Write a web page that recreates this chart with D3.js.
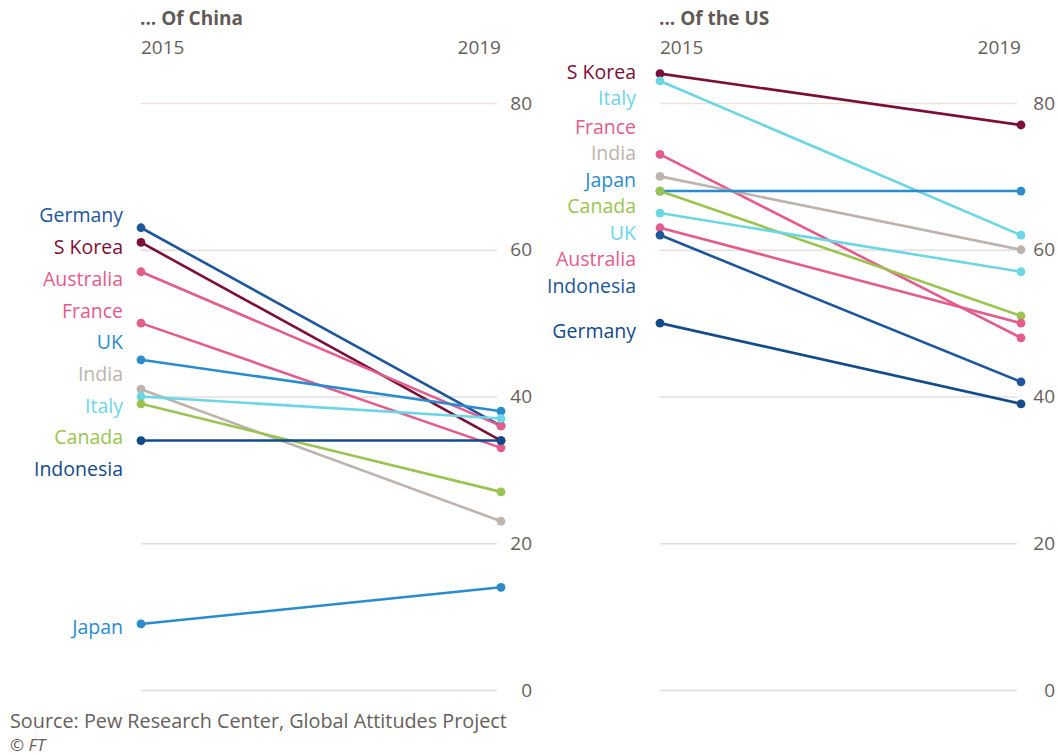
<!DOCTYPE html>
<html lang="en">
<head>
<meta charset="UTF-8">
<title>Views of China and the US</title>
<style>
  body { margin: 0; background: #fff; }
  svg text { font-family: "Open Sans", Lato, sans-serif; }
</style>
</head>
<body>
<script src="https://cdnjs.cloudflare.com/ajax/libs/d3/7.8.5/d3.min.js"></script>
<script>
'use strict';

// --- data ---
const years = ["2015", "2019"];
const yTicks = [0, 20, 40, 60, 80];

const chinaCountries = ["Germany", "S Korea", "Australia", "France", "UK", "India", "Italy", "Canada", "Indonesia", "Japan"];
const china2015 = [63, 61, 57, 50, 45, 41, 40, 39, 34, 9];
const china2019 = [36, 34, 36, 33, 38, 23, 37, 27, 34, 14];

const usCountries = ["S Korea", "Italy", "France", "India", "Japan", "Canada", "UK", "Australia", "Indonesia", "Germany"];
const us2015 = [84, 83, 73, 70, 68, 68, 65, 63, 62, 50];
const us2019 = [77, 62, 48, 60, 68, 51, 57, 50, 42, 39];

// colours (each panel assigns its own)
const pal = {
  navy: "#1d569b", navy2: "#134b8a", claret: "#7b0f38", pink: "#e45b8d",
  blue: "#2a8ccd", cyan: "#6bd6e4", grey: "#bcb4ad", green: "#9ac450"
};
const chinaColours = ["navy", "claret", "pink", "pink", "blue", "grey", "cyan", "green", "navy2", "blue"];
const usColours = ["claret", "cyan", "pink", "grey", "blue", "green", "cyan", "pink", "navy", "navy2"];

const W = 1058, H = 755;
const svg = d3.select("body").append("svg").attr("width", W).attr("height", H);

const y = d3.scaleLinear().domain([0, 80]).range([690, 103]);

// spread labels so they don't overlap, keeping groups centred on their dots
function spread(ys, gap) {
  let groups = ys.map((v, i) => ({ ids: [i], c: v }))
    .sort((a, b) => a.c - b.c);
  let moved = true;
  while (moved) {
    moved = false;
    for (let i = 0; i < groups.length - 1; i++) {
      const a = groups[i], b = groups[i + 1];
      const aEnd = a.c + (a.ids.length - 1) * gap / 2;
      const bStart = b.c - (b.ids.length - 1) * gap / 2;
      if (bStart - aEnd < gap) {
        const ids = a.ids.concat(b.ids);
        const c = d3.mean(ids, k => ys[k]);
        groups.splice(i, 2, { ids: ids.sort((p, q) => ys[p] - ys[q]), c: c });
        moved = true;
        break;
      }
    }
  }
  const out = [];
  groups.forEach(g => g.ids.forEach((k, j) => {
    out[k] = g.c + (j - (g.ids.length - 1) / 2) * gap;
  }));
  return out;
}

function panel(opts) {
  const g = svg.append("g");
  const x = d3.scalePoint().domain(years).range([opts.x0, opts.x1]);
  const rows = opts.countries.map((c, i) => ({
    name: c, a: opts.v0[i], b: opts.v1[i], col: pal[opts.colours[i]]
  }));

  // title + years
  g.append("text").attr("x", opts.x0 - 1).attr("y", 25)
    .attr("font-size", 19).attr("font-weight", 700).attr("fill", "#5f5a56")
    .text(opts.title);
  g.selectAll("text.yr").data(years).enter().append("text")
    .attr("class", "yr")
    .attr("x", d => x(d))
    .attr("y", 54)
    .attr("text-anchor", (d, i) => i ? "end" : "start")
    .attr("font-size", 19).attr("fill", "#66605c")
    .text(d => d);

  // grid + tick labels on the right
  const axis = d3.axisRight(y).tickValues(yTicks)
    .tickSize(opts.x1 - opts.x0 - 4).tickPadding(10);
  const ax = g.append("g").attr("transform", `translate(${opts.x0},0)`).call(axis);
  ax.select(".domain").remove();
  ax.selectAll(".tick line")
    .attr("stroke", d => d === 80 ? "#ece2da" : "#e2dfdc").attr("stroke-width", 1.6);
  ax.selectAll(".tick text")
    .attr("font-size", 19).attr("fill", "#66605c")
    .attr("font-family", "'Open Sans', Lato, sans-serif")
    .attr("text-anchor", "end")
    .attr("x", opts.tickRight - opts.x0);

  // slopes
  g.selectAll("line.s").data(rows).enter().append("line")
    .attr("class", "s")
    .attr("x1", x(years[0])).attr("x2", x(years[1]))
    .attr("y1", d => y(d.a)).attr("y2", d => y(d.b))
    .attr("stroke", d => d.col).attr("stroke-width", 2.6);

  ["a", "b"].forEach((k, i) => {
    g.selectAll("circle." + k).data(rows).enter().append("circle")
      .attr("class", k)
      .attr("cx", x(years[i])).attr("cy", d => y(d[k]))
      .attr("r", 4.4).attr("fill", d => d.col);
  });

  // country labels
  const ly = spread(rows.map(d => y(d.a)), opts.gap);
  g.selectAll("text.lab").data(rows).enter().append("text")
    .attr("class", "lab")
    .attr("x", opts.labRight)
    .attr("y", (d, i) => ly[i] + opts.labShift)
    .attr("dy", "0.35em")
    .attr("text-anchor", "end")
    .attr("font-size", 19.5)
    .attr("fill", d => d.col)
    .text(d => d.name);
}

panel({ title: "... Of China", countries: chinaCountries, v0: china2015, v1: china2019,
  colours: chinaColours, x0: 141, x1: 501, tickRight: 532, labRight: 123, gap: 31.7, labShift: 3 });
panel({ title: "... Of the US", countries: usCountries, v0: us2015, v1: us2019,
  colours: usColours, x0: 660, x1: 1021, tickRight: 1055, labRight: 636, gap: 26.5, labShift: 8 });

svg.append("text").attr("x", 10).attr("y", 728)
  .attr("font-size", 19.8).attr("fill", "#66605c")
  .text("Source: Pew Research Center, Global Attitudes Project");
svg.append("text").attr("x", 10).attr("y", 751)
  .attr("font-size", 17).attr("font-style", "italic").attr("fill", "#66605c")
  .text("© FT");
</script>
</body>
</html>
